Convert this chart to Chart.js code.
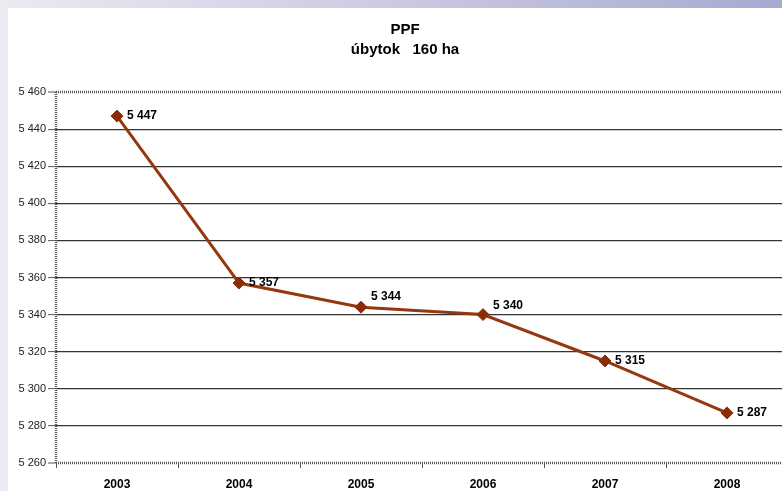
<!DOCTYPE html>
<html>
<head>
<meta charset="utf-8">
<script src="https://cdn.jsdelivr.net/npm/chart.js@4/dist/chart.umd.min.js"></script>
<style>
html, body { margin:0; padding:0; width:782px; height:491px; overflow:hidden; background:#ebebf3; }
#bar { position:absolute; left:0; top:0; width:782px; height:8px; background:linear-gradient(to right, #ebebf3, #a9a9d1); }
#box { position:absolute; left:8px; top:8px; width:774px; height:483px; background:#fff; overflow:hidden; }
#graf { position:absolute; left:0; top:0; }
</style>
</head>
<body>
<div id="bar"></div>
<div id="box"><canvas id="graf" width="800" height="500"></canvas></div>
<script>
// dados
var anos = ['2003', '2004', '2005', '2006', '2007', '2008'];
var ppf = [5447, 5357, 5344, 5340, 5315, 5287];
var yTicks = [5260, 5280, 5300, 5320, 5340, 5360, 5380, 5400, 5420, 5440, 5460];
var titulo = ['PPF', 'úbytok   160 ha'];

function fmt(v) {
    return String(v).replace(/\B(?=(\d{3})+(?!\d))/g, ' ');
}

// rotulos dos pontos (deslocamento vertical)
var subir = [0, 0, -10, -9, 0, 0];

var rotulos = {
    id: 'rotulos',
    afterDatasetsDraw: function(chart) {
        var ctx = chart.ctx;
        var meta = chart.getDatasetMeta(0);
        ctx.save();
        ctx.font = 'bold 12px "Liberation Sans", Arial, sans-serif';
        ctx.fillStyle = '#000';
        ctx.textBaseline = 'middle';
        ctx.textAlign = 'left';
        for (var i = 0; i < meta.data.length; i++) {
            var p = meta.data[i];
            ctx.fillText(fmt(ppf[i]), p.x + 10, p.y + subir[i]);
        }
        ctx.restore();
    }
};

// titulo (centrado um pouco a direita, como no original)
var cabecalho = {
    id: 'cabecalho',
    afterDraw: function(chart) {
        var ctx = chart.ctx;
        ctx.save();
        ctx.font = 'bold 15px "Liberation Sans", Arial, sans-serif';
        ctx.fillStyle = '#000';
        ctx.textAlign = 'center';
        ctx.textBaseline = 'middle';
        ctx.fillText(titulo[0], 397, 22);
        ctx.fillText(titulo[1], 397, 42);
        ctx.restore();
    }
};

// moldura pontilhada (topo, esquerda, base)
var moldura = {
    id: 'moldura',
    beforeDatasetsDraw: function(chart) {
        var a = chart.chartArea;
        var ctx = chart.ctx;
        ctx.save();
        ctx.strokeStyle = '#555';
        ctx.lineWidth = 2.5;
        ctx.setLineDash([1, 1]);
        ctx.beginPath();
        ctx.moveTo(a.left, a.top); ctx.lineTo(a.right, a.top);
        ctx.moveTo(a.left, a.bottom); ctx.lineTo(a.right, a.bottom);
        ctx.moveTo(a.left, a.top); ctx.lineTo(a.left, a.bottom);
        ctx.stroke();
        ctx.restore();
    }
};

var ctx = document.getElementById('graf').getContext('2d');
var grafico = new Chart(ctx, {
    type: 'line',
    data: {
        labels: anos,
        datasets: [{
            data: ppf,
            borderColor: '#94380f',
            borderWidth: 3,
            tension: 0,
            pointStyle: 'rectRot',
            pointRadius: 6,
            pointBackgroundColor: '#8a2c08',
            pointBorderColor: '#8a2c08',
            pointBorderWidth: 1
        }]
    },
    options: {
        responsive: false,
        animation: false,
        layout: { padding: { left: 0, right: 20, top: 84, bottom: 15 } },
        plugins: {
            legend: { display: false },
            tooltip: { enabled: false },
            title: { display: false }
        },
        scales: {
            x: {
                type: 'category',
                offset: true,
                afterFit: function(s) { s.height = 30; },
                grid: { offset: true, drawOnChartArea: false, drawTicks: true, tickLength: 5, color: '#555' },
                border: { display: false },
                ticks: {
                    color: '#000',
                    padding: 9,
                    maxRotation: 0,
                    font: { family: '"Liberation Sans", Arial, sans-serif', size: 12, weight: 'bold' }
                }
            },
            y: {
                min: 5260,
                max: 5460,
                afterFit: function(s) { s.width = 48; },
                afterBuildTicks: function(s) {
                    s.ticks = yTicks.map(function(v) { return { value: v }; });
                },
                grid: {
                    color: '#333',
                    lineWidth: function(c) {
                        if (c.tick && (c.tick.value === 5460 || c.tick.value === 5260)) return 0;
                        return 1.2;
                    },
                    drawTicks: true,
                    tickLength: 8,
                    tickColor: '#555',
                    tickWidth: 1
                },
                border: { display: false },
                ticks: {
                    color: '#222',
                    padding: 2,
                    font: { family: '"Liberation Sans", Arial, sans-serif', size: 11 },
                    callback: function(v) { return fmt(v); }
                }
            }
        }
    },
    plugins: [moldura, rotulos, cabecalho]
});
</script>
</body>
</html>
